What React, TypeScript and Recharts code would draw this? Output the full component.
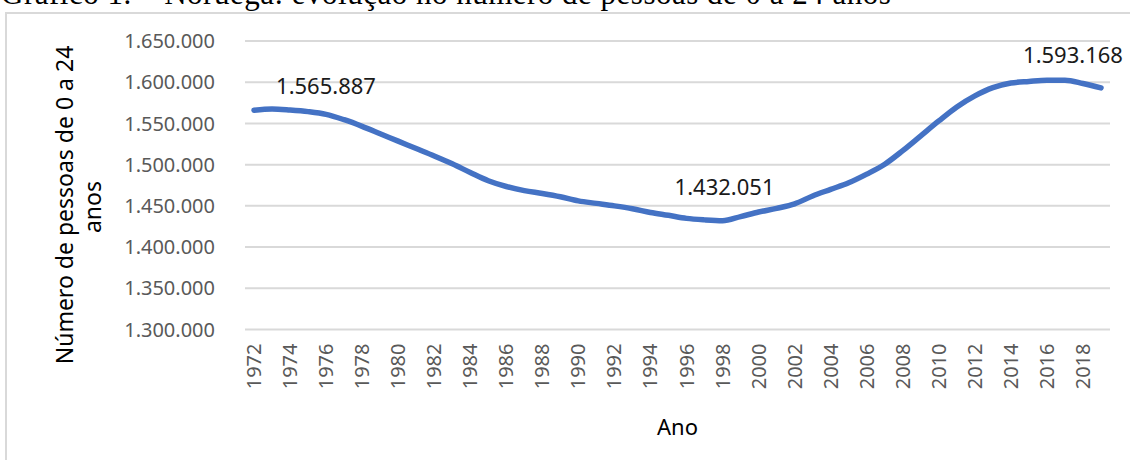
import React from 'react';
import { LineChart, Line, XAxis, YAxis, CartesianGrid, LabelList } from 'recharts';

const years = [
  '1972', '1973', '1974', '1975', '1976', '1977', '1978', '1979', '1980', '1981',
  '1982', '1983', '1984', '1985', '1986', '1987', '1988', '1989', '1990', '1991',
  '1992', '1993', '1994', '1995', '1996', '1997', '1998', '1999', '2000', '2001',
  '2002', '2003', '2004', '2005', '2006', '2007', '2008', '2009', '2010', '2011',
  '2012', '2013', '2014', '2015', '2016', '2017', '2018', '2019'
];

const population = [
  1565887, 1567400, 1566200, 1564300, 1561000, 1554500, 1546500, 1537500, 1528500, 1519500,
  1510500, 1501000, 1490500, 1480500, 1473500, 1468500, 1465000, 1461000, 1456000, 1453000,
  1450000, 1446500, 1442000, 1438500, 1434800, 1433000, 1432051, 1437000, 1442500, 1447000,
  1452500, 1462000, 1470000, 1478000, 1488500, 1500500, 1517000, 1535000, 1553000, 1570000,
  1583500, 1593500, 1599000, 1601000, 1602500, 1602500, 1598500, 1593168
];

const yTicks = [1300000, 1350000, 1400000, 1450000, 1500000, 1550000, 1600000, 1650000];

const labeledYears = ['1972', '1998', '2019'];

const chartTitle = 'Gráfico 1. – Noruega: evolução no número de pessoas de 0 a 24 anos';
const yTitleLines = ['Número de pessoas de 0 a 24', 'anos'];
const xTitle = 'Ano';

const FONT = '"Noto Sans", "Open Sans", sans-serif';

// where each data label sits relative to its point
const labelOffsets: Record<string, { dx: number; dy: number }> = {
  '1972': { dx: 72, dy: -16 },
  '1998': { dx: 2, dy: -26 },
  '2019': { dx: -28, dy: -25 }
};

const fmt = (v: number) => String(Math.round(v)).replace(/\B(?=(\d{3})+(?!\d))/g, '.');

const data = years.map((year, i) => ({ year, value: population[i] }));

const XTick = (props: any) => {
  const { x, y, payload } = props;
  return (
    <text
      x={x}
      y={y}
      transform={`rotate(-90, ${x}, ${y})`}
      textAnchor="end"
      dy="0.35em"
      fill="#595959"
      fontSize={20}
      fontFamily={FONT}
    >
      {payload.value}
    </text>
  );
};

const DataLabel = (props: any) => {
  const { x, y, index, value } = props;
  const year = years[index];
  if (!labeledYears.includes(year)) return null;
  const off = labelOffsets[year];
  return (
    <text
      x={x + off.dx}
      y={y + off.dy}
      textAnchor="middle"
      fill="#1a1a1a"
      fontSize={22}
      fontFamily={FONT}
    >
      {fmt(value)}
    </text>
  );
};

const App = () => {
  return (
    <div
      style={{
        position: 'absolute',
        left: 0,
        top: 0,
        width: 1130,
        height: 460,
        overflow: 'hidden',
        background: '#ffffff'
      }}
    >
      <div
        style={{
          position: 'absolute',
          left: 5,
          top: 12,
          width: 1160,
          height: 480,
          border: '2px solid #d9d9d9'
        }}
      />
      <svg width={1130} height={460} style={{ position: 'absolute', left: 0, top: 0 }}>
        <text
          x={1}
          y={4}
          fontSize={31}
          letterSpacing={0.5}
          fontFamily='"Liberation Serif", serif'
          fill="#000"
        >
          {chartTitle}
        </text>
        <text
          x={65}
          y={205}
          transform="rotate(-90, 65, 205)"
          textAnchor="middle"
          dy="0.35em"
          fontSize={23}
          fontFamily={FONT}
          fill="#000"
        >
          {yTitleLines[0]}
        </text>
        <text
          x={93}
          y={207}
          transform="rotate(-90, 93, 207)"
          textAnchor="middle"
          dy="0.35em"
          fontSize={23}
          fontFamily={FONT}
          fill="#000"
        >
          {yTitleLines[1]}
        </text>
      </svg>
      <div style={{ position: 'absolute', left: 0, top: 0 }}>
        <LineChart
          width={1130}
          height={460}
          data={data}
          margin={{ top: 41, right: 20, left: 0, bottom: 0 }}
        >
          <CartesianGrid vertical={false} stroke="#d9d9d9" strokeWidth={2} />
          <XAxis
            dataKey="year"
            interval={1}
            height={130.5}
            padding={{ left: 9, right: 9 }}
            axisLine={false}
            tickLine={false}
            tickSize={0}
            tickMargin={14}
            tick={<XTick />}
            label={{
              value: xTitle,
              position: 'insideBottom',
              offset: 25,
              fill: '#000',
              fontSize: 22,
              fontFamily: FONT
            }}
          />
          <YAxis
            width={245}
            domain={[1300000, 1650000]}
            ticks={yTicks}
            axisLine={false}
            tickLine={false}
            tickSize={0}
            tickMargin={30}
            tickFormatter={fmt}
            tick={{ fill: '#595959', fontSize: 20, fontFamily: FONT }}
          />
          <Line
            type="monotone"
            dataKey="value"
            stroke="#4472c4"
            strokeWidth={5.5}
            strokeLinecap="round"
            dot={false}
            activeDot={false}
            isAnimationActive={false}
          >
            <LabelList dataKey="value" content={<DataLabel />} />
          </Line>
        </LineChart>
      </div>
    </div>
  );
};

export default App;
